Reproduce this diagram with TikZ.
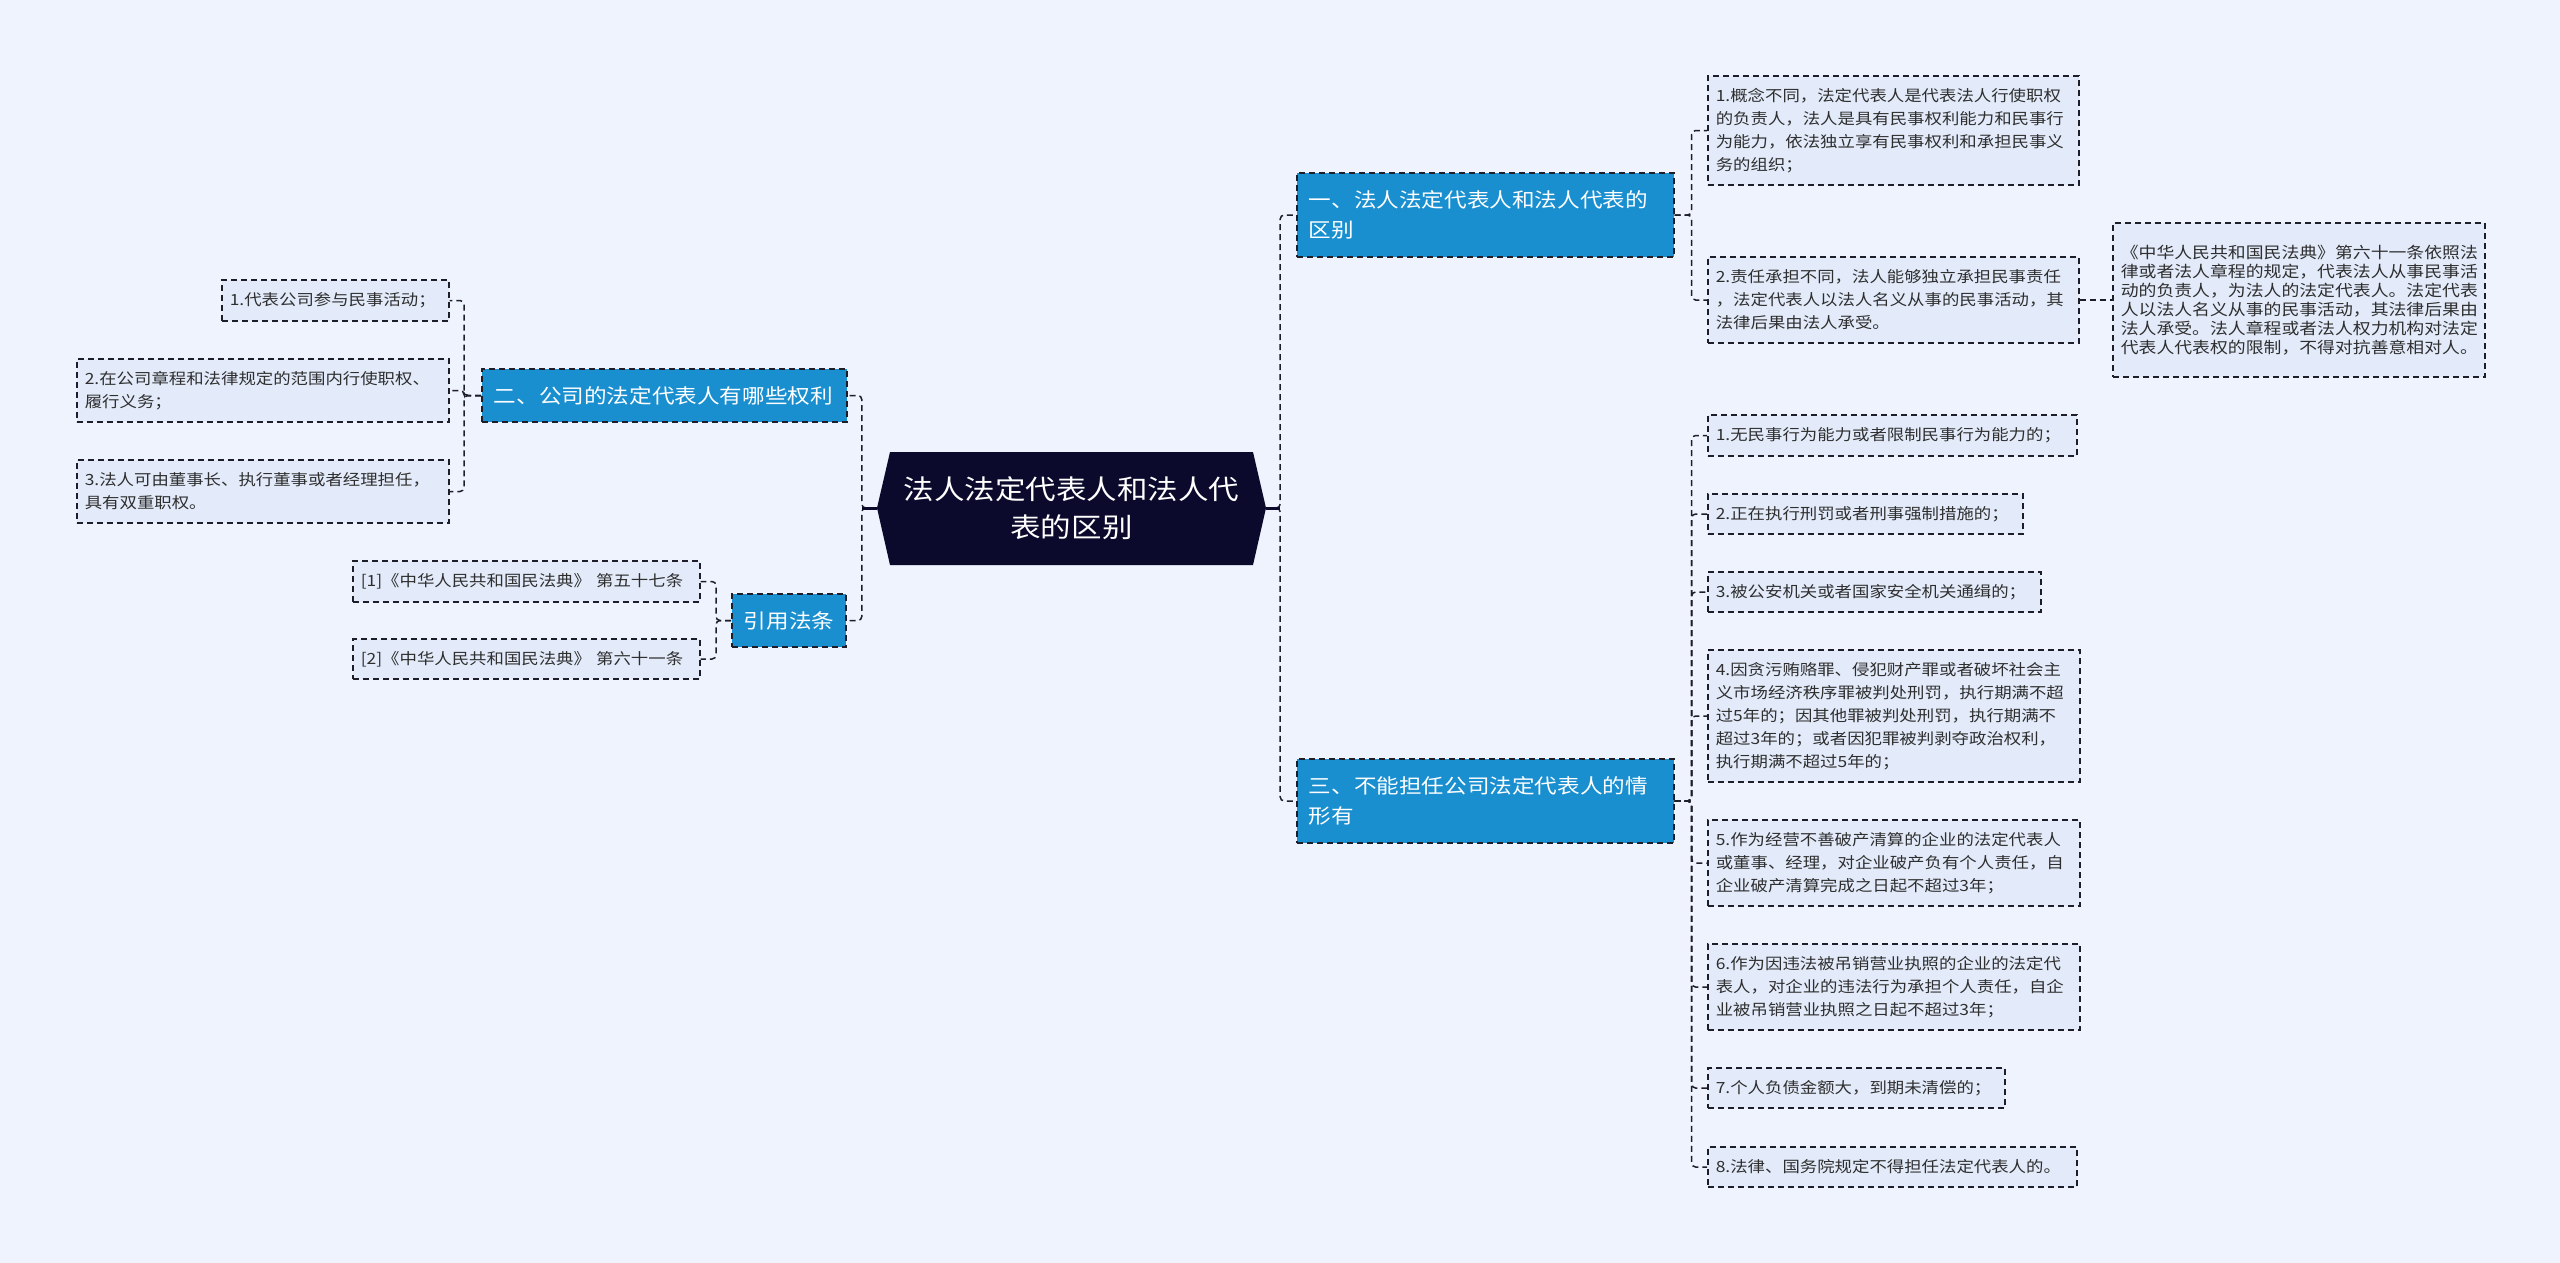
\documentclass[tikz,border=0pt]{standalone}
\usepackage{fontspec}
\newfontfamily\cjk{Noto Sans CJK SC}[FakeStretch=1.13]
\definecolor{grund}{HTML}{EEF3FD}
\definecolor{blattfill}{HTML}{E3EBFA}
\definecolor{astblau}{HTML}{1A8FD0}
\definecolor{nacht}{HTML}{0B0A2C}
\definecolor{strich}{HTML}{1E1E2A}
\definecolor{schrift}{HTML}{2E2E2E}
\newcommand\blattf{\cjk\fontsize{15.4}{23}\selectfont}
\newcommand\quellef{\cjk\fontsize{15.8}{19.1}\selectfont}
\newcommand\astf{\cjk\fontsize{20}{30}\selectfont}
\newcommand\kernf{\cjk\fontsize{27}{38}\selectfont}
\newcommand\blatt[6]{\node[blatt,text width=#4,minimum height=#5] (#1) at (#2,#3) {#6};}

\begin{document}
\begin{tikzpicture}[x=1pt,y=-1pt]
\useasboundingbox (0,0) rectangle (2560,1263);
\tikzset{blatt/.style={draw=strich,line width=1.6pt,dash pattern=on 6pt off 4pt,fill=blattfill,
    anchor=west,inner xsep=8pt,inner ysep=0pt,align=left,font=\blattf,text=schrift},
  ast/.style={draw=strich,line width=1.6pt,dash pattern=on 6pt off 4pt,fill=astblau,
    anchor=west,inner xsep=12pt,inner ysep=0pt,align=left,font=\astf,text=white},
  verbindung/.style={strich,line width=1.5pt,dash pattern=on 6pt off 4pt,rounded corners=4pt},
  stamm/.style={nacht,line width=3pt}}

\fill[grund] (0,0) rectangle (2560,1263);

% ---- Kern: Sechseck mit Titel
\fill[nacht] (890,452) -- (1253,452) -- (1266,508) -- (1253,565) -- (890,565) -- (877,508) -- cycle;
\node[minimum width=389pt,minimum height=113pt,inner sep=0,align=center,font=\kernf,text=white]
  (kern) at (1071.5,508) {法人法定代表人和法人代\\表的区别};

% ---- Äste ----------------------------------------------------------------------
\node[ast,text width=353pt,minimum height=84pt] (eins) at (1296,215) {一、法人法定代表人和法人代表的\\区别};
\node[ast,text width=341pt,minimum height=53pt] (zwei) at (481,395.5) {二、公司的法定代表人有哪些权利};
\node[ast,text width=353pt,minimum height=84pt] (drei) at (1296,801) {三、不能担任公司法定代表人的情\\形有};
\node[ast,text width=90pt,minimum height=53pt,align=center] (zitat) at (731,620.5) {引用法条};

% ---- Blätter zu eins
\blatt{e1}{1707}{130.5}{355pt}{109pt}{1.概念不同，法定代表人是代表法人行使职权\\的负责人，法人是具有民事权利能力和民事行\\为能力，依法独立享有民事权利和承担民事义\\务的组织；}
\blatt{e2}{1707}{300}{355pt}{86pt}{2.责任承担不同，法人能够独立承担民事责任\\，法定代表人以法人名义从事的民事活动，其\\法律后果由法人承受。}
\node[blatt,font=\quellef,text width=356pt,minimum height=154pt] (quelle) at (2112,300)
  {《中华人民共和国民法典》第六十一条依照法\\律或者法人章程的规定，代表法人从事民事活\\动的负责人，为法人的法定代表人。法定代表\\人以法人名义从事的民事活动，其法律后果由\\法人承受。法人章程或者法人权力机构对法定\\代表人代表权的限制，不得对抗善意相对人。};

% ---- Blätter zu zwei und zitat
\blatt{z1}{221}{300.5}{211pt}{41pt}{1.代表公司参与民事活动；}
\blatt{z2}{76}{390.5}{356pt}{63pt}{2.在公司章程和法律规定的范围内行使职权、\\履行义务；}
\blatt{z3}{76}{491.5}{356pt}{63pt}{3.法人可由董事长、执行董事或者经理担任，\\具有双重职权。}
\blatt{q1}{352}{581.5}{331pt}{41pt}{[1]《中华人民共和国民法典》 第五十七条}
\blatt{q2}{352}{659}{331pt}{40pt}{[2]《中华人民共和国民法典》 第六十一条}

% ---- Blätter zu drei
\blatt{d1}{1707}{435.5}{353pt}{41pt}{1.无民事行为能力或者限制民事行为能力的；}
\blatt{d2}{1707}{514}{299pt}{40pt}{2.正在执行刑罚或者刑事强制措施的；}
\blatt{d3}{1707}{592}{317pt}{40pt}{3.被公安机关或者国家安全机关通缉的；}
\blatt{d4}{1707}{716}{356pt}{132pt}{4.因贪污贿赂罪、侵犯财产罪或者破坏社会主\\义市场经济秩序罪被判处刑罚，执行期满不超\\过5年的；因其他罪被判处刑罚，执行期满不\\超过3年的；或者因犯罪被判剥夺政治权利，\\执行期满不超过5年的；}
\blatt{d5}{1707}{863}{356pt}{86pt}{5.作为经营不善破产清算的企业的法定代表人\\或董事、经理，对企业破产负有个人责任，自\\企业破产清算完成之日起不超过3年；}
\blatt{d6}{1707}{987}{356pt}{86pt}{6.作为因违法被吊销营业执照的企业的法定代\\表人，对企业的违法行为承担个人责任，自企\\业被吊销营业执照之日起不超过3年；}
\blatt{d7}{1707}{1088}{281pt}{40pt}{7.个人负债金额大，到期未清偿的；}
\blatt{d8}{1707}{1167}{353pt}{40pt}{8.法律、国务院规定不得担任法定代表人的。}

% ---- Verbindungen
\foreach \k in {zwei,zitat} {\draw[verbindung] (kern.west) -- ++(-15,0) |- (\k.east);}
\foreach \k in {eins,drei} {\draw[verbindung] (kern.east) -- ++(14,0) |- (\k.west);}
\draw[stamm] (kern.west) -- ++(-15,0);
\draw[stamm] (kern.east) -- ++(14,0);
\foreach \k in {e1,e2} {\draw[verbindung] (eins.east) -- ++(17,0) |- (\k.west);}
\draw[verbindung] (e2.east) -- (quelle.west);
\foreach \k in {z1,z2,z3} {\draw[verbindung] (zwei.west) -- ++(-17,0) |- (\k.east);}
\foreach \k in {q1,q2} {\draw[verbindung] (zitat.west) -- ++(-15,0) |- (\k.east);}
\foreach \k in {d1,d2,d3,d4,d5,d6,d7,d8} {\draw[verbindung] (drei.east) -- ++(17,0) |- (\k.west);}
\end{tikzpicture}
\end{document}
